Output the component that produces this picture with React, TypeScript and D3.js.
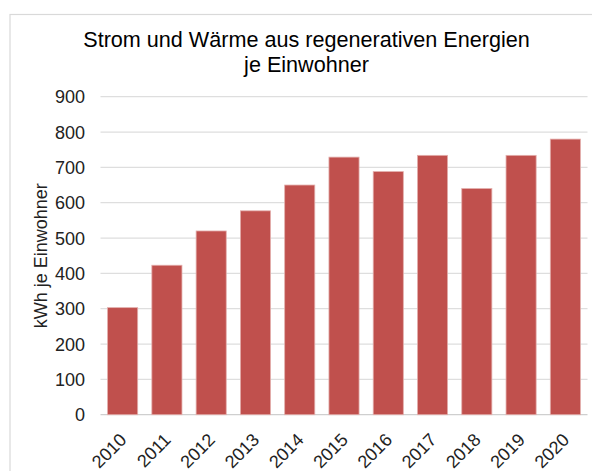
import React from "react";
import * as d3 from "d3";

const years = ["2010", "2011", "2012", "2013", "2014", "2015", "2016", "2017", "2018", "2019", "2020"];
const values = [303, 423, 520, 577, 650, 729, 688, 734, 640, 734, 780];
const yTicks = [0, 100, 200, 300, 400, 500, 600, 700, 800, 900];
const titleLines = ["Strom und Wärme aus regenerativen Energien", "je Einwohner"];
const yLabel = "kWh je Einwohner";

const W = 592;
const H = 471;
const plot = { left: 100.5, right: 587.5, top: 96.7, bottom: 414.7 };
const font = "'Liberation Sans', Arial, sans-serif";

export default function App() {
  const x = d3
    .scaleBand<string>()
    .domain(years)
    .range([plot.left, plot.right])
    .paddingInner(0.32)
    .paddingOuter(0.16);
  const y = d3.scaleLinear().domain([0, 900]).range([plot.bottom, plot.top]);

  return (
    <svg
      width={W}
      height={H}
      style={{ position: "absolute", left: 0, top: 0, background: "#fff" }}
      fontFamily={font}
    >
      <rect x={10} y={14.5} width={W + 20} height={H + 20} fill="#fff" stroke="#d9d9d9" strokeWidth={1.2} />
      {titleLines.map((t, i) => (
        <text key={i} x={306.5} y={46.5 + i * 25} textAnchor="middle" fontSize={21.6} fill="#000">
          {t}
        </text>
      ))}
      {yTicks.map((t) => (
        <g key={t}>
          <line
            x1={plot.left}
            x2={plot.right}
            y1={y(t)}
            y2={y(t)}
            stroke={t === 0 ? "#cfcfcf" : "#dedede"}
            strokeWidth={1.3}
          />
          <text x={85} y={y(t)} dy="0.36em" textAnchor="end" fontSize={18} fill="#222">
            {t}
          </text>
        </g>
      ))}
      {values.map((v, i) => (
        <rect
          key={years[i]}
          x={x(years[i])}
          y={y(v)}
          width={x.bandwidth()}
          height={y(0) - y(v)}
          fill="#c0504d"
          stroke="#e3aeac"
          strokeWidth={0.8}
        />
      ))}
      {years.map((yr) => {
        const cx = (x(yr) as number) + x.bandwidth() / 2;
        return (
          <text
            key={yr}
            transform={`translate(${cx + 5},${441}) rotate(-45)`}
            textAnchor="end"
            fontSize={18}
            fill="#222"
          >
            {yr}
          </text>
        );
      })}
      <text
        transform={`translate(46.5,${(plot.top + plot.bottom) / 2}) rotate(-90)`}
        textAnchor="middle"
        fontSize={18}
        fill="#222"
      >
        {yLabel}
      </text>
    </svg>
  );
}
